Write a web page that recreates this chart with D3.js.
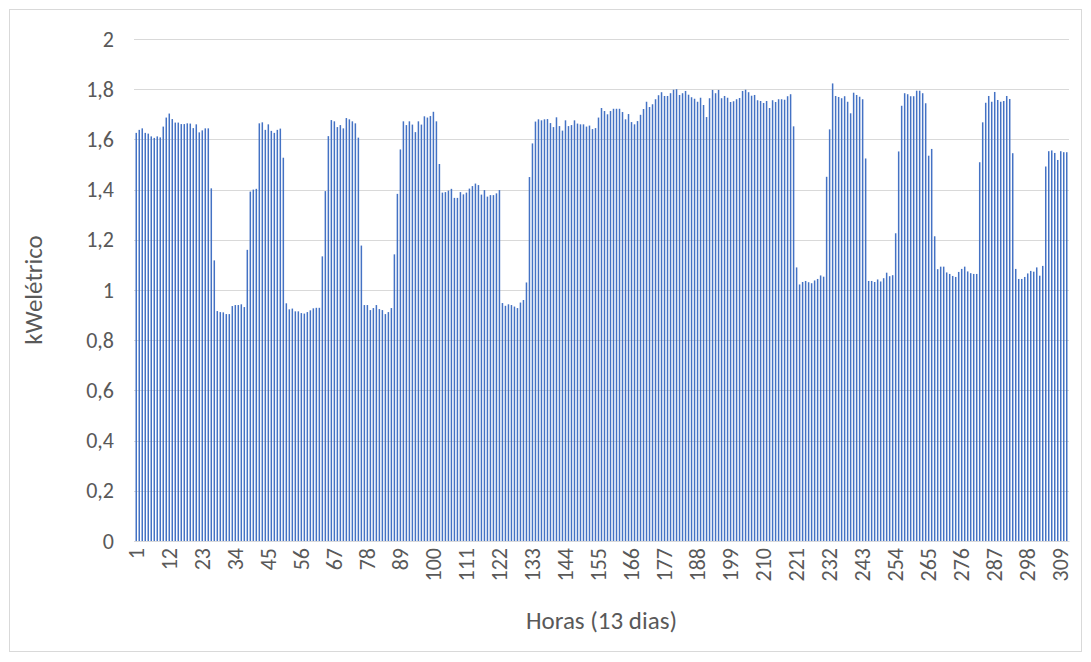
<!DOCTYPE html>
<html>
<head>
<meta charset="utf-8">
<script src="https://cdn.jsdelivr.net/npm/d3@7"></script>
<style>
  body { margin: 0; background: #fff; }
  text { font-family: Carlito, Calibri, Lato, "Noto Sans", sans-serif; fill: #595959; }
</style>
</head>
<body>
<div id="chart"></div>
<script>
// hourly kW readings, one array per day
var day1 = [1.626,1.638,1.644,1.626,1.623,1.612,1.606,1.612,1.608,1.651,1.687,1.703,1.681,1.667,1.667,1.661,1.661,1.664,1.663,1.645,1.66,1.628,1.636,1.644];
var day2 = [1.644,1.405,1.118,0.916,0.912,0.911,0.904,0.904,0.936,0.94,0.94,0.943,0.932,1.16,1.392,1.4,1.403,1.664,1.668,1.638,1.66,1.634,1.626,1.638];
var day3 = [1.643,1.527,0.947,0.923,0.926,0.915,0.915,0.908,0.906,0.912,0.919,0.927,0.929,0.929,1.134,1.394,1.613,1.677,1.672,1.649,1.657,1.644,1.685,1.68];
var day4 = [1.672,1.664,1.607,1.177,0.94,0.94,0.92,0.928,0.94,0.924,0.92,0.904,0.912,0.928,1.142,1.383,1.56,1.672,1.657,1.672,1.659,1.629,1.672,1.659];
var day5 = [1.692,1.687,1.693,1.71,1.672,1.502,1.388,1.39,1.396,1.403,1.367,1.367,1.39,1.381,1.388,1.404,1.414,1.424,1.418,1.38,1.398,1.372,1.378,1.378];
var day6 = [1.385,1.398,0.948,0.937,0.943,0.94,0.934,0.928,0.95,0.96,1.03,1.45,1.584,1.671,1.68,1.676,1.68,1.681,1.665,1.649,1.688,1.653,1.635,1.676];
var day7 = [1.653,1.657,1.676,1.663,1.66,1.66,1.651,1.655,1.641,1.645,1.687,1.725,1.713,1.7,1.713,1.722,1.722,1.722,1.709,1.68,1.701,1.669,1.66,1.673];
var day8 = [1.698,1.721,1.75,1.729,1.74,1.76,1.776,1.788,1.773,1.773,1.784,1.798,1.8,1.777,1.784,1.793,1.778,1.768,1.762,1.75,1.766,1.737,1.689,1.764];
var day9 = [1.797,1.784,1.797,1.764,1.773,1.766,1.749,1.752,1.76,1.765,1.793,1.798,1.788,1.774,1.777,1.756,1.753,1.745,1.753,1.725,1.756,1.749,1.76,1.76];
var day10 = [1.758,1.772,1.78,1.652,1.09,1.022,1.032,1.036,1.031,1.027,1.038,1.044,1.058,1.053,1.451,1.64,1.823,1.773,1.769,1.764,1.772,1.75,1.704,1.786];
var day11 = [1.777,1.77,1.76,1.524,1.036,1.036,1.032,1.042,1.034,1.047,1.069,1.055,1.059,1.226,1.552,1.734,1.784,1.78,1.772,1.772,1.794,1.794,1.784,1.744];
var day12 = [1.535,1.562,1.214,1.083,1.093,1.093,1.07,1.064,1.056,1.052,1.072,1.084,1.093,1.074,1.067,1.064,1.064,1.509,1.668,1.746,1.773,1.75,1.789,1.757];
var day13 = [1.75,1.753,1.773,1.761,1.545,1.084,1.044,1.044,1.052,1.066,1.076,1.073,1.09,1.057,1.096,1.492,1.553,1.556,1.546,1.518,1.553,1.549,1.549];

var yTicks = [0, 0.2, 0.4, 0.6, 0.8, 1, 1.2, 1.4, 1.6, 1.8, 2];
var xTickStep = 11;
var yTitle = "kWelétrico";
var xTitle = "Horas (13 dias)";

var svgWidth = 1091;
var svgHeight = 662;
var margin = { top: 39, right: 22, bottom: 121, left: 134 };
var width = svgWidth - margin.left - margin.right;
var height = svgHeight - margin.top - margin.bottom;

var values = [].concat(day1, day2, day3, day4, day5, day6, day7, day8, day9, day10, day11, day12, day13);
var data = values.map(function(v, i) { return { hour: i + 1, kw: v }; });

var svg = d3.select("#chart")
  .append("svg")
  .attr("width", svgWidth)
  .attr("height", svgHeight);

// chart frame
svg.append("rect")
  .attr("x", 9.5)
  .attr("y", 9.5)
  .attr("width", 1072)
  .attr("height", 642)
  .attr("fill", "#fff")
  .attr("stroke", "#d9d9d9");

var chartGroup = svg.append("g")
  .attr("transform", `translate(${margin.left}, ${margin.top})`);

// scales
var xBandScale = d3.scaleBand()
  .domain(data.map(d => d.hour))
  .range([0, width])
  .padding(0.5);

var yLinearScale = d3.scaleLinear()
  .domain([0, 2])
  .range([height, 0]);

// gridlines + y labels
var leftAxis = d3.axisLeft(yLinearScale)
  .tickValues(yTicks)
  .tickSize(-width)
  .tickPadding(20)
  .tickFormat(d => d3.format("~g")(d).replace(".", ","));

var yAxisGroup = chartGroup.append("g").call(leftAxis);
yAxisGroup.select(".domain").remove();
yAxisGroup.selectAll("line").attr("stroke", "#d9d9d9").attr("shape-rendering", "crispEdges");
yAxisGroup.selectAll("text").attr("font-size", "22px").attr("fill", "#595959");

// bars
chartGroup.selectAll("rect.bar")
  .data(data)
  .enter()
  .append("rect")
  .attr("class", "bar")
  .attr("x", d => xBandScale(d.hour))
  .attr("y", d => yLinearScale(d.kw))
  .attr("width", xBandScale.bandwidth())
  .attr("height", d => height - yLinearScale(d.kw))
  .attr("fill", "#4472c4");

// x axis, labels every 11 hours
var bottomAxis = d3.axisBottom(xBandScale)
  .tickValues(data.map(d => d.hour).filter(h => (h - 1) % xTickStep === 0))
  .tickSize(0);

var xAxisGroup = chartGroup.append("g")
  .attr("transform", `translate(0, ${height})`)
  .call(bottomAxis);
xAxisGroup.select(".domain").attr("stroke", "#d9d9d9");
xAxisGroup.selectAll("text")
  .attr("font-size", "22px")
  .attr("fill", "#595959")
  .attr("text-anchor", "end")
  .attr("transform", "rotate(-90)")
  .attr("x", -7)
  .attr("y", 0)
  .attr("dy", "0.35em");

// axis titles
svg.append("text")
  .attr("transform", `translate(42, ${margin.top + height / 2}) rotate(-90)`)
  .attr("text-anchor", "middle")
  .attr("font-size", "25px")
  .text(yTitle);

svg.append("text")
  .attr("x", margin.left + width / 2)
  .attr("y", 629)
  .attr("text-anchor", "middle")
  .attr("font-size", "25px")
  .text(xTitle);
</script>
</body>
</html>
